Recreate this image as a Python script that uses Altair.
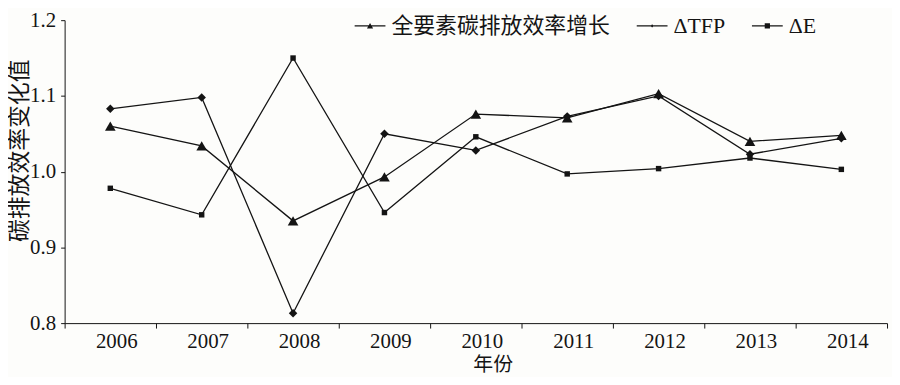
import altair as alt
import pandas as pd

years = ["2006", "2007", "2008", "2009", "2010", "2011", "2012", "2013", "2014"]
total_growth = [1.060, 1.034, 0.935, 0.993, 1.076, 1.071, 1.103, 1.040, 1.048]
delta_tfp = [1.083, 1.098, 0.813, 1.050, 1.028, 1.073, 1.100, 1.023, 1.044]
delta_e = [0.978, 0.943, 1.150, 0.946, 1.046, 0.997, 1.004, 1.018, 1.003]
series_names = ["全要素碳排放效率增长", "ΔTFP", "ΔE"]
y_ticks = [0.8, 0.9, 1.0, 1.1, 1.2]

rows = []
for name, vals in zip(series_names, [total_growth, delta_tfp, delta_e]):
    for yr, v in zip(years, vals):
        rows.append({"year": yr, "value": v, "series": name})
df = pd.DataFrame(rows)

FONT = "Liberation Serif, Noto Sans CJK SC"
INK = "#141414"

x_enc = alt.X(
    "year:O",
    sort=years,
    scale=alt.Scale(type="band", paddingInner=0, paddingOuter=0),
    axis=alt.Axis(
        title="年份", labelAngle=0, tickBand="extent", tickSize=5,
        labelOffset=6, labelPadding=3, titleX=431, titleY=42,
        titleBaseline="middle", titleAlign="center", titleFontSize=20,
    ),
)
y_enc = alt.Y(
    "value:Q",
    scale=alt.Scale(domain=[0.8, 1.2], nice=False, zero=False),
    axis=alt.Axis(
        values=y_ticks, format=".1f", title="碳排放效率变化值", grid=False,
        tickSize=4, labelPadding=5, titleX=-45, titleY=131, titleAngle=-90,
        titleBaseline="middle", titleAlign="center", titleFontSize=23,
    ),
)

base = alt.Chart(df)

lines = base.mark_line(color=INK, strokeWidth=1.3).encode(
    x=x_enc, y=y_enc, detail="series:N"
)

points = base.mark_point(filled=True, color=INK, opacity=1).encode(
    x=x_enc,
    y=y_enc,
    shape=alt.Shape(
        "series:N",
        scale=alt.Scale(domain=series_names, range=["triangle-up", "diamond", "square"]),
        legend=None,
    ),
    size=alt.Size(
        "series:N",
        scale=alt.Scale(domain=series_names, range=[115, 30, 100]),
        legend=None,
    ),
)

line_seg = "M-1,-0.045H1V0.045H-1Z"
legend_paths = [
    line_seg + " M-0.2,0.17L0,-0.18L0.2,0.17Z",
    line_seg + " M-0.1,0L0,-0.1L0.1,0L0,0.1Z",
    line_seg + " M-0.17,-0.17H0.17V0.17H-0.17Z",
]

legend_layer = base.mark_point(filled=True, color=INK, opacity=0).encode(
    x=x_enc,
    y=y_enc,
    shape=alt.Shape(
        "series:N",
        scale=alt.Scale(domain=series_names, range=legend_paths),
        legend=alt.Legend(
            title=None, orient="none", legendX=292, legendY=-10,
            direction="horizontal", columns=3, symbolSize=961,
            symbolOpacity=1, symbolFillColor=INK, symbolStrokeWidth=0,
            labelFontSize=22, labelFont=FONT, labelOffset=6, labelLimit=0,
            columnPadding=26, labelColor=INK, padding=0,
        ),
    ),
)

chart = (
    alt.layer(lines, points, legend_layer)
    .resolve_scale(shape="independent", size="independent")
    .properties(
        width=828,
        height=305,
        autosize=alt.AutoSizeParams(type="none"),
        padding={"left": 57, "top": 11, "right": 5, "bottom": 53},
        background="#fdfdfb",
    )
    .configure_view(stroke=None)
    .configure_axis(
        domainColor=INK, tickColor=INK, labelColor=INK, titleColor=INK,
        labelFont=FONT, titleFont=FONT, labelFontSize=21,
        titleFontWeight="normal", domainWidth=1, tickWidth=1,
    )
    .configure_legend(labelFont=FONT)
)

chart.save("out.html", embed_options={"renderer": "svg", "actions": False})
